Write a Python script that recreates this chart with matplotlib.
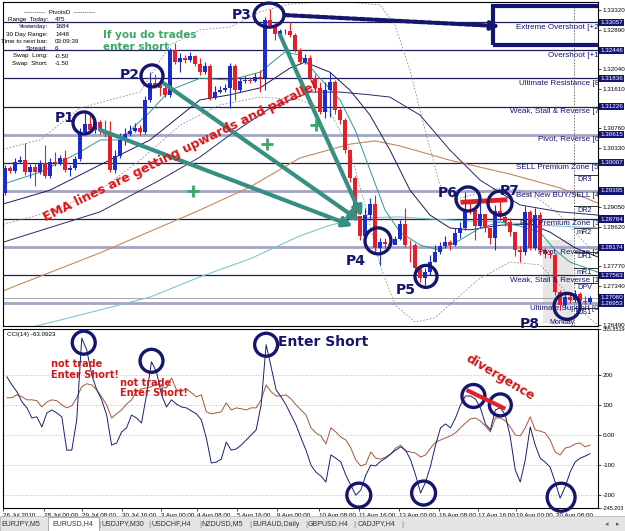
import matplotlib
matplotlib.use("Agg")
import matplotlib.pyplot as plt
from matplotlib.patches import Rectangle, Ellipse

W, H = 625, 531

# EURUSD H4 candles (bar 0 = 26 Jul 2010)
first_open = 1.2935
closes = [1.2989, 1.2983, 1.3002, 1.3006, 1.2980, 1.2991, 1.2980, 1.3000, 1.2972, 1.3002,
          1.3000, 1.3011, 1.2985, 1.2989, 1.3008, 1.3067, 1.3085, 1.3072, 1.3089, 1.3069,
          1.3063, 1.2985, 1.3015, 1.3050, 1.3063, 1.3069, 1.3076, 1.3067, 1.3137, 1.3174,
          1.3169, 1.3163, 1.3148, 1.3245, 1.3219, 1.3228, 1.3224, 1.3232, 1.3215, 1.3197,
          1.3211, 1.3141, 1.3154, 1.3158, 1.3163, 1.3211, 1.3158, 1.3178, 1.3180, 1.3178,
          1.3187, 1.3184, 1.3310, 1.3299, 1.3280, 1.3286, 1.3286, 1.3278, 1.3245, 1.3219,
          1.3228, 1.3184, 1.3163, 1.3111, 1.3158, 1.3176, 1.3115, 1.3093, 1.3028, 1.2967,
          1.2885, 1.2842, 1.2887, 1.2911, 1.2816, 1.2829, 1.2824, 1.2822, 1.2835, 1.2868,
          1.2822, 1.2821, 1.2772, 1.2750, 1.2763, 1.2785, 1.2807, 1.2820, 1.2829, 1.2822,
          1.2848, 1.2859, 1.2898, 1.2897, 1.2863, 1.2889, 1.2859, 1.2837, 1.2896, 1.2883,
          1.2872, 1.2850, 1.2811, 1.2807, 1.2894, 1.2816, 1.2887, 1.2811, 1.2803, 1.2800,
          1.2720, 1.2692, 1.2709, 1.2703, 1.2716, 1.2701, 1.2698, 1.2708]
highs = [1.2996, 1.2994, 1.3011, 1.3015, 1.3043, 1.2998, 1.2998, 1.3006, 1.3039, 1.3011,
         1.3024, 1.3017, 1.3028, 1.2996, 1.3015, 1.3076, 1.3109, 1.3106, 1.3095, 1.3093,
         1.3093, 1.3091, 1.3028, 1.3065, 1.3076, 1.3082, 1.3087, 1.3082, 1.3145, 1.3197,
         1.3193, 1.3180, 1.3169, 1.3250, 1.3260, 1.3239, 1.3234, 1.3241, 1.3234, 1.3228,
         1.3219, 1.3215, 1.3167, 1.3167, 1.3171, 1.3217, 1.3215, 1.3184, 1.3189, 1.3187,
         1.3195, 1.3202, 1.3317, 1.3334, 1.3306, 1.3291, 1.3291, 1.3306, 1.3282, 1.3250,
         1.3237, 1.3234, 1.3193, 1.3176, 1.3176, 1.3197, 1.3180, 1.3119, 1.3098, 1.3028,
         1.2972, 1.2881, 1.2902, 1.2924, 1.2930, 1.2837, 1.2837, 1.2833, 1.2842, 1.2876,
         1.2902, 1.2833, 1.2826, 1.2779, 1.2772, 1.2800, 1.2822, 1.2829, 1.2842, 1.2833,
         1.2859, 1.2872, 1.2937, 1.2915, 1.2909, 1.2920, 1.2887, 1.2859, 1.2909, 1.2924,
         1.2889, 1.2881, 1.2837, 1.2820, 1.2907, 1.2898, 1.2902, 1.2894, 1.2816, 1.2811,
         1.2803, 1.2724, 1.2718, 1.2716, 1.2724, 1.2720, 1.2711, 1.2711]
lows = [1.2930, 1.2978, 1.2978, 1.3000, 1.2974, 1.2967, 1.2950, 1.2976, 1.2967, 1.2967,
        1.2994, 1.2996, 1.2980, 1.2972, 1.2985, 1.3004, 1.3063, 1.3065, 1.3065, 1.3063,
        1.3056, 1.2980, 1.2978, 1.3011, 1.3039, 1.3059, 1.3067, 1.3061, 1.3063, 1.3132,
        1.3163, 1.3145, 1.3143, 1.3143, 1.3215, 1.3197, 1.3217, 1.3219, 1.3211, 1.3191,
        1.3193, 1.3137, 1.3139, 1.3152, 1.3154, 1.3119, 1.3137, 1.3154, 1.3174, 1.3174,
        1.3176, 1.3154, 1.3158, 1.3293, 1.3267, 1.3278, 1.3280, 1.3273, 1.3241, 1.3215,
        1.3215, 1.3180, 1.3154, 1.3106, 1.3098, 1.3100, 1.3106, 1.3085, 1.3022, 1.2959,
        1.2879, 1.2833, 1.2837, 1.2876, 1.2807, 1.2779, 1.2816, 1.2818, 1.2824, 1.2833,
        1.2818, 1.2785, 1.2768, 1.2742, 1.2735, 1.2757, 1.2785, 1.2803, 1.2816, 1.2811,
        1.2820, 1.2837, 1.2855, 1.2889, 1.2833, 1.2859, 1.2850, 1.2824, 1.2811, 1.2876,
        1.2863, 1.2842, 1.2798, 1.2785, 1.2800, 1.2811, 1.2811, 1.2800, 1.2794, 1.2794,
        1.2714, 1.2681, 1.2685, 1.2696, 1.2698, 1.2694, 1.2692, 1.2694]

# moving averages / bands, read at sample bars
ema_fast_x = [-1, 7, 15, 19, 23, 29, 33, 39, 45, 51, 56, 59, 63, 67, 70, 73, 76, 79, 83, 87,
              91, 95, 99, 103, 107, 110, 113, 118.6]
ema_fast = [1.2952, 1.2980, 1.3024, 1.3050, 1.3050, 1.3111, 1.3158, 1.3184, 1.3180, 1.3197,
            1.3241, 1.3234, 1.3184, 1.3137, 1.3072, 1.2985, 1.2898, 1.2850, 1.2822, 1.2811,
            1.2833, 1.2859, 1.2872, 1.2863, 1.2850, 1.2811, 1.2785, 1.2763]
ema_mid_x = [-1, 9, 19, 29, 39, 45, 51, 57, 60, 65, 69, 73, 77, 81, 85, 89, 93, 99, 105, 109,
             114, 118.6]
ema_mid = [1.2909, 1.2941, 1.2996, 1.3050, 1.3137, 1.3148, 1.3163, 1.3206, 1.3219, 1.3197,
           1.3158, 1.3104, 1.3028, 1.2941, 1.2887, 1.2859, 1.2855, 1.2865, 1.2868, 1.2850,
           1.2816, 1.2796]
ema_slow_x = [-1, 19, 31, 39, 45, 53, 61, 67, 73, 77, 83, 89, 95, 103, 111, 118.6]
ema_slow = [1.2826, 1.2894, 1.2963, 1.3013, 1.3061, 1.3119, 1.3154, 1.3154, 1.3148, 1.3143,
            1.3104, 1.3028, 1.2963, 1.2909, 1.2894, 1.2887]
ema_brown_x = [-1, 19, 39, 49, 59, 69, 74, 79, 89, 101, 111, 118.6]
ema_brown = [1.2720, 1.2805, 1.2898, 1.2948, 1.3011, 1.3041, 1.3048, 1.3037, 1.3006, 1.2976,
             1.2946, 1.2913]
ema_cyan_x = [-1, 11, 29, 39, 49, 59, 65, 71, 79, 89, 99, 107, 118.6]
ema_cyan = [1.2627, 1.2659, 1.2709, 1.2753, 1.2792, 1.2842, 1.2865, 1.2881, 1.2883, 1.2876,
            1.2872, 1.2865, 1.2859]
bb_up_x = [-1, 7, 15, 21, 27, 33, 39, 45, 51, 57, 63, 69, 75, 78, 81, 84, 87, 90, 93, 99,
           103, 107, 111, 115, 118.6]
bb_up = [1.3028, 1.3050, 1.3119, 1.3137, 1.3154, 1.3256, 1.3289, 1.3295, 1.3328, 1.3345,
         1.3349, 1.3349, 1.3343, 1.3299, 1.3202, 1.3072, 1.2952, 1.2920, 1.2930, 1.2946,
         1.2941, 1.2920, 1.2887, 1.2837, 1.2800]
bb_lo_x = [-1, 9, 19, 27, 35, 43, 51, 59, 65, 69, 72, 75, 78, 82, 86, 90, 95, 101, 107, 111,
           115, 118.6]
bb_lo = [1.2865, 1.2894, 1.2941, 1.3006, 1.3082, 1.3126, 1.3143, 1.3137, 1.3111, 1.3028,
         1.2909, 1.2779, 1.2692, 1.2655, 1.2664, 1.2703, 1.2750, 1.2785, 1.2779, 1.2735,
         1.2681, 1.2648]

# Murrey math levels
mm_levels = [1.33057, 1.32446, 1.31836, 1.31226, 1.30615, 1.30007, 1.29395, 1.28784,
             1.28174, 1.27563, 1.26953]
mm_names = ["Extreme Overshoot [+2/8]", "Overshoot [+1/8]", "Ultimate Resistance [8/8]",
            "Weak, Stall & Reverse [7/8]", "Pivot, Reverse [6/8]", "SELL Premium Zone [5/8]",
            "Best New BUY/SELL [4/8]", "BUY Premium Zone [3/8]", "Pivot, Reverse [2/8]",
            "Weak, Stall & Reverse [1/8]", "Ultimate Support [0/8]"]
bid = 1.27080
price_ticks = [1.33320, 1.32890, 1.32040, 1.31610, 1.30760, 1.30330, 1.29050, 1.28620,
               1.27770, 1.27340, 1.26490]

# daily pivots
piv_names = ["DR3", "DR2", "mR2", "DR1", "mR1", "DPV", "DS1"]
piv_levels = [1.2974, 1.2907, 1.2859, 1.2807, 1.2772, 1.2740, 1.2685]

# CCI(14) and its slow companion
cci = [195, 168, 145, 111, 91, 57, 61, 27, 74, 84, 74, 61, -51, -51, 51, 325, 286, 202, 152, 118,
       67, -34, -27, 10, 24, 67, 57, 40, 135, 246, 212, 135, 94, 118, 104, 94, 91, 81, 71, 51,
       -10, -94, -91, -81, -24, -51, -47, -34, -17, 0, 17, 101, 303, 229, 152, 128, 101, 67, 34, -10,
       -51, -101, -125, -138, -158, -67, -78, -91, -135, -169, -202, -185, -135, -101, -104, -88,
       -78, -64, -51, -40, -51, -84, -135, -195, -158, -104, -34, 24, 37, 24, 57, 101, 131, 131,
       121, 91, 37, 17, 84, 91, 67, -7, -118, -158, -84, 27, -34, -78, -91, -108, -158, -212,
       -175, -125, -91, -78, -71, -63]
cci_slow = [125, 125, 135, 128, 118, 118, 115, 94, 111, 118, 115, 101, 91, 98, 125, 162, 172, 168,
            152, 128, 101, 57, 71, 84, 104, 118, 145, 155, 158, 162, 172, 162, 158, 192, 152, 148,
            155, 142, 128, 135, 78, 71, 74, 78, 108, 84, 91, 88, 84, 91, 91, 118, 168, 145, 131,
            131, 135, 121, 101, 84, 67, 24, 7, -3, -30, 24, 10, -7, -17, -44, -84, -104, -98, -57,
            -78, -81, -74, -64, -44, -34, -54, -57, -61, -74, -67, -44, -24, -17, -10, -3, 7, 24,
            40, 54, 57, 47, 30, 10, 57, 57, 47, 27, 0, -3, 24, 61, 17, 13, 7, -17, -57, -67, -44,
            -40, -30, -27, -40, -34]
cci_top, cci_bot = 355.8519, -245.203

date_pos = [-0.8, 7.4, 15, 23, 31, 38.2, 46.2, 54.2, 62.6, 70.6, 78.6, 86.6, 94.6, 102.2, 110.2]
date_labels = ["26 Jul 2010", "28 Jul 00:00", "29 Jul 08:00", "30 Jul 16:00", "3 Aug 00:00",
               "4 Aug 08:00", "5 Aug 16:00", "9 Aug 00:00", "10 Aug 08:00", "11 Aug 16:00",
               "13 Aug 00:00", "16 Aug 08:00", "17 Aug 16:00", "19 Aug 00:00", "20 Aug 08:00"]
tabs = ["EURJPY,M5", "EURUSD,H4", "USDJPY,M30", "USDCHF,H4", "NZDUSD,M5", "EURAUD,Daily",
        "GBPUSD,H4", "CADJPY,H4"]
tab_x = [21, 73, 123, 171, 222, 276, 328, 376]

NAVY = "#15156e"
BLUE = "#1a2ccc"
RED = "#e3202a"
TEAL = "#378f82"
GREEN = "#3ca865"
SMALL = "Liberation Sans"

fig = plt.figure(figsize=(W / 100, H / 100), dpi=100)
ax = fig.add_axes([3 / W, 1 - 326 / H, 595 / W, 324 / H])
cc = fig.add_axes([3 / W, 1 - 508 / H, 595 / W, 179 / H])
XL = (-0.4, 118.6)
PY = 0.000217     # price per pixel
CY = 600.0551 / 179  # cci per pixel


def circle(a, x, y, dx, dy, sy, lw=2.4):
    a.add_patch(Ellipse((x, y), dx * 0.2, dy * sy, fill=False, ec=NAVY, lw=lw,
                        zorder=8, clip_on=False))


# ---------------- main price panel ----------------
ax.set_xlim(*XL)
ax.set_ylim(1.26463, 1.33494)
for i, lv in enumerate(mm_levels):
    light = i in (4, 6, 8, 10)
    ax.axhline(lv, color="#a4a4c4" if light else "#1e1e5a", lw=2 if light else 0.9, zorder=1)
    ax.text(120.6, lv - 0.0003, mm_names[i], ha="right", va="top", fontsize=5.8,
            family=SMALL, color=NAVY, clip_on=True, zorder=6)
ax.axhline(bid, color="#9a9a9a", lw=0.6, zorder=1)

# weekend shading and day separator
ax.add_patch(Rectangle((107.6, 1.2653), 6, 0.0180, fc="#e6e6e6", ec="none", zorder=0.5))
ax.axvline(113.8, color="#707070", lw=0.7, ls=(0, (1.5, 1.5)), zorder=1)
for name, lv in zip(piv_names, piv_levels):
    ax.plot([113.8, 118.6], [lv, lv], color="#303030", lw=0.7, zorder=2)
    ax.text(114.4, lv - 0.0002, name, fontsize=5.2, family=SMALL, color=NAVY, va="top", zorder=6)
ax.text(111.4, 1.2654, "Monday", fontsize=5, family=SMALL, color=NAVY, ha="center",
        va="center", zorder=6)

# indicators
ax.plot(bb_up_x, bb_up, color="#8c8c8c", lw=0.6, ls=(0, (2, 2)), zorder=2)
ax.plot(bb_lo_x, bb_lo, color="#8c8c8c", lw=0.6, ls=(0, (2, 2)), zorder=2)
ax.plot(ema_cyan_x, ema_cyan, color="#7cc8c8", lw=0.8, zorder=2)
ax.plot(ema_brown_x, ema_brown, color="#c88858", lw=0.8, zorder=2)
ax.plot(ema_slow_x, ema_slow, color="#2a2a6a", lw=0.7, zorder=2)
ax.plot(ema_mid_x, ema_mid, color="#1a1a5e", lw=0.7, zorder=2)
ax.plot(ema_fast_x, ema_fast, color="#2f9a8e", lw=0.7, zorder=2)

# candles
opens = [first_open] + closes[:-1]
bars = list(range(len(closes)))
cols = [BLUE if c >= o else RED for o, c in zip(opens, closes)]
ax.vlines(bars, lows, highs, colors=cols, lw=0.8, zorder=3)
body = [c - o if abs(c - o) > 0.00006 else 0.00006 for o, c in zip(opens, closes)]
ax.bar(bars, body, bottom=opens, width=0.62, color=cols, zorder=4)

# right price scale
ax.yaxis.tick_right()
ax.set_yticks(price_ticks)
ax.set_yticklabels([f"{p:.5f}" for p in price_ticks], fontsize=4.5, family=SMALL)
ax.tick_params(axis="y", length=2, width=0.5, pad=1.5)
ax.set_xticks([])
for lv in mm_levels + [bid]:
    ax.text(1.004, lv, f"{lv:.5f}", transform=ax.get_yaxis_transform(), fontsize=4.5,
            family=SMALL, color="white", va="center", ha="left", clip_on=False,
            bbox=dict(boxstyle="square,pad=0.18", fc="#141478", ec="none"))
for s in ax.spines.values():
    s.set_linewidth(0.8)

# annotations
ax.add_patch(Rectangle((97.6, 1.3256), 30, 0.0085, fill=False, ec=NAVY, lw=3, zorder=7,
                       clip_on=True))
ax.annotate("", xy=(99, 1.3297), xytext=(56, 1.3321),
            arrowprops=dict(arrowstyle="-|>", color=NAVY, lw=3, ls=(0, (1.2, 0.6)),
                            mutation_scale=12, shrinkA=0, shrinkB=0), zorder=7)
for (x1, y1, x2, y2) in [(19, 1.3072, 69.6, 1.2863), (31.6, 1.3174, 71, 1.2874),
                         (55, 1.3278, 71.4, 1.2883)]:
    ax.annotate("", xy=(x2, y2), xytext=(x1, y1),
                arrowprops=dict(arrowstyle="-|>", color=TEAL, lw=3, mutation_scale=14,
                                shrinkA=0, shrinkB=0), zorder=7)
ax.plot([37.6, 52.4, 62.2], [1.2939, 1.3041, 1.3082], "+", ms=8, mew=2, color=GREEN, zorder=7)

for name, x, y in [("P1", 12, 1.3098), ("P2", 25, 1.3191), ("P3", 47.4, 1.3321),
                   ("P4", 70.2, 1.2787), ("P5", 80.2, 1.2724), ("P6", 88.6, 1.2935),
                   ("P7", 101, 1.2939), ("P8", 105, 1.2651)]:
    ax.text(x, y, name, fontsize=10, fontweight="bold", color=NAVY, ha="center", va="center",
            zorder=9, clip_on=False)
for x, y, d1, d2 in [(15.8, 1.3087, 22, 22), (29.4, 1.3189, 22, 22), (52.8, 1.3321, 30, 24),
                     (74.6, 1.2831, 26, 26), (84.2, 1.2754, 22, 22), (92.6, 1.2922, 24, 24),
                     (99, 1.2913, 24, 24), (112.4, 1.2689, 26, 26)]:
    circle(ax, x, y, d1, d2, PY)
ax.plot([91.6, 100], [1.2915, 1.2920], color=RED, lw=3.5, zorder=7)

ax.text(19.6, 1.3278, "If you do trades", fontsize=7.5, fontweight="bold", color=GREEN,
        va="center", zorder=9)
ax.text(19.6, 1.3251, "enter short", fontsize=7.5, fontweight="bold", color=GREEN,
        va="center", zorder=9)
ax.text(35, 1.3025, "EMA lines are getting upwards and parallel", fontsize=9,
        fontweight="bold", color="#dd1515", rotation=26, rotation_mode="anchor",
        ha="center", va="center", zorder=9)

# PivotsD info block
info = [("Range  Today:", "475"), ("Yesterday:", "1684"), ("30 Day Range:", "1448"),
        ("Time to next bar:", "03:09:39"), ("Spread:", "6"), ("Swap  Long:", "-0.50"),
        ("Swap  Short:", "-1.50")]
fig.text(60 / W, 1 - 12 / H, "----------  PivotsD  ----------", fontsize=4.5, family=SMALL,
         ha="center", va="center")
for k, (lab, val) in enumerate(info):
    yy = 1 - (19.5 + 7.3 * k) / H
    fig.text(48 / W, yy, lab, fontsize=4.5, family=SMALL, ha="right", va="center")
    fig.text(55 / W, yy, val, fontsize=4.5, family=SMALL, ha="left", va="center")

# ---------------- CCI panel ----------------
cc.set_xlim(*XL)
cc.set_ylim(cci_bot, cci_top)
for v in [200, 100, 0, -100, -200]:
    cc.axhline(v, color="#a8a8a8", lw=0.6, ls=(0, (1, 2)), zorder=1)
cc.plot(bars, cci_slow, color="#a5563c", lw=0.7, zorder=3)
cc.plot(bars, cci, color="#1a2070", lw=0.7, zorder=4)
cc.yaxis.tick_right()
cc.set_yticks([cci_top, 200, 100, 0, -100, -200, cci_bot])
cc.set_yticklabels(["355.8519", "200", "100", "0.00", "-100", "-200", "-245.203"],
                   fontsize=4.5, family=SMALL)
for lab in cc.get_yticklabels():
    if lab.get_text() in ("355.8519", "-245.203"):
        lab.set_fontsize(3.9)
cc.tick_params(axis="y", length=2, width=0.5, pad=1.2)
cc.set_xticks(date_pos)
cc.set_xticklabels(date_labels, fontsize=4.5, family=SMALL, ha="left")
cc.tick_params(axis="x", length=2, width=0.5, pad=1.5)
for s in cc.spines.values():
    s.set_linewidth(0.8)
cc.text(0.006, 0.985, "CCI(14) -63.0923", transform=cc.transAxes, fontsize=4.5,
        family=SMALL, va="top")

for x, y, d in [(15.4, 310, 23), (29, 249, 23), (52, 303, 23), (70.6, -202, 24),
                (83.6, -195, 24), (111.2, -209, 28), (93.6, 131, 23), (99, 101, 22)]:
    circle(cc, x, y, d, d, CY)
cc.plot([92.6, 99.6], [148, 91], color=RED, lw=3, zorder=9)
cc.text(8.8, 219, "not trade\nEnter Short!", fontsize=7, fontweight="bold", color="#d41818",
        va="center", linespacing=1.1, zorder=9)
cc.text(22.6, 158, "not trade\nEnter Short!", fontsize=7, fontweight="bold", color="#d41818",
        va="center", linespacing=1.1, zorder=9)
cc.text(54.4, 313, "Enter Short", fontsize=10, fontweight="bold", color=NAVY, va="center",
        zorder=9)
cc.text(99, 192, "divergence", fontsize=9, fontweight="bold", color="#d41818", rotation=-31,
        rotation_mode="anchor", ha="center", va="center", zorder=9)

# ---------------- symbol tabs ----------------
fig.add_artist(Rectangle((0, 0), 1, 15 / H, transform=fig.transFigure, fc="#e4e4e4",
                         ec="#b0b0b0", lw=0.5))
fig.add_artist(Rectangle((48 / W, 0), 51 / W, 14 / H, transform=fig.transFigure, fc="white",
                         ec="#909090", lw=0.5))
for name, x in zip(tabs, tab_x):
    fig.text(x / W, 7 / H, name, fontsize=5, family=SMALL, color="#333333", ha="center",
             va="center")
for x in [99, 149, 200, 250, 306, 354, 402]:
    fig.text(x / W, 7 / H, "|", fontsize=6, family=SMALL, color="#777777", ha="center",
             va="center")
fig.text(607 / W, 7 / H, "\u25c2", fontsize=5, color="#666666", ha="center", va="center")
fig.text(618 / W, 7 / H, "\u25b8", fontsize=5, color="#666666", ha="center", va="center")

fig.savefig("out.png", dpi=100)
